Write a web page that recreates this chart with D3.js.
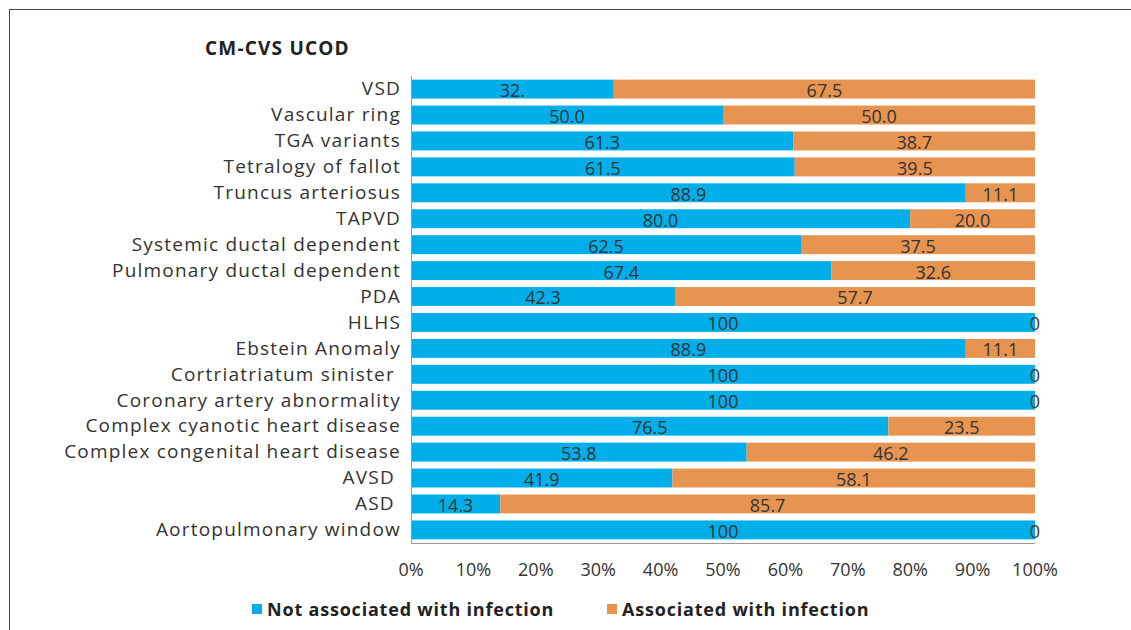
<!DOCTYPE html>
<html>
<head>
<meta charset="utf-8">
<script src="https://cdn.jsdelivr.net/npm/d3@7"></script>
<style>
  body { margin: 0; background: #fff; }
  text { font-family: "Open Sans", "DejaVu Sans", sans-serif; }
</style>
</head>
<body>
<div id="chart"></div>
<script>
const width = 1131, height = 630;

// Data (top to bottom)
const categories = [
  "VSD", "Vascular ring", "TGA variants", "Tetralogy of fallot", "Truncus arteriosus",
  "TAPVD", "Systemic ductal dependent", "Pulmonary ductal dependent", "PDA", "HLHS",
  "Ebstein Anomaly", "Cortriatriatum sinister ", "Coronary artery abnormality",
  "Complex cyanotic heart disease", "Complex congenital heart disease", "AVSD ", "ASD ",
  "Aortopulmonary window"
];
const notInfection = [32.5, 50.0, 61.3, 61.5, 88.9, 80.0, 62.5, 67.4, 42.3, 100, 88.9, 100, 100, 76.5, 53.8, 41.9, 14.3, 100];
const withInfection = [67.5, 50.0, 38.7, 39.5, 11.1, 20.0, 37.5, 32.6, 57.7, 0, 11.1, 0, 0, 23.5, 46.2, 58.1, 85.7, 0];
const notInfectionLabels = ["32.", "50.0", "61.3", "61.5", "88.9", "80.0", "62.5", "67.4", "42.3", "100", "88.9", "100", "100", "76.5", "53.8", "41.9", "14.3", "100"];
const withInfectionLabels = ["67.5", "50.0", "38.7", "39.5", "11.1", "20.0", "37.5", "32.6", "57.7", "0", "11.1", "0", "0", "23.5", "46.2", "58.1", "85.7", "0"];
const xTicks = [0, 10, 20, 30, 40, 50, 60, 70, 80, 90, 100];
const seriesNames = ["Not associated with infection", "Associated with infection"];
const colors = ["#00AEEA", "#E89451"];

const margin = {top: 76, left: 411, right: 96, bottom: 87};

const svg = d3.select("#chart").append("svg")
  .attr("width", width)
  .attr("height", height);

// frame
svg.append("rect")
  .attr("x", 9.5).attr("y", 9.5)
  .attr("width", 1200).attr("height", 700)
  .attr("fill", "none")
  .attr("stroke", "#444")
  .attr("stroke-width", 1);

svg.append("text")
  .attr("x", 205).attr("y", 55)
  .attr("font-size", 19)
  .attr("font-weight", "bold")
  .attr("letter-spacing", 1.2)
  .attr("fill", "#222")
  .text("CM-CVS UCOD");

const x = d3.scaleLinear().domain([0, 100])
  .range([margin.left, width - margin.right]).clamp(true);
const y = d3.scaleBand().domain(categories)
  .range([margin.top, height - margin.bottom])
  .paddingInner(0.27).paddingOuter(0.14);

const rows = categories.map((c, i) => ({
  cat: c, a: notInfection[i], b: withInfection[i],
  la: notInfectionLabels[i], lb: withInfectionLabels[i]
}));

// blue segments
svg.append("g").selectAll("rect")
  .data(rows).join("rect")
  .attr("x", x(0))
  .attr("y", d => y(d.cat))
  .attr("width", d => x(d.a) - x(0))
  .attr("height", y.bandwidth())
  .attr("fill", colors[0]);

// orange segments
svg.append("g").selectAll("rect")
  .data(rows.filter(d => d.b > 0)).join("rect")
  .attr("x", d => x(d.a))
  .attr("y", d => y(d.cat))
  .attr("width", d => x(d.a + d.b) - x(d.a))
  .attr("height", y.bandwidth())
  .attr("fill", colors[1]);

// axes lines
const axisColor = "#999";
svg.append("line")
  .attr("x1", x(0) + 0.5).attr("x2", x(0) + 0.5)
  .attr("y1", margin.top).attr("y2", height - margin.bottom)
  .attr("stroke", axisColor);
svg.append("line")
  .attr("x1", x(0)).attr("x2", x(100))
  .attr("y1", height - margin.bottom + 0.5).attr("y2", height - margin.bottom + 0.5)
  .attr("stroke", axisColor);

// category labels
svg.append("g").selectAll("text")
  .data(rows).join("text")
  .attr("x", x(0) - 10)
  .attr("y", d => y(d.cat) + y.bandwidth() / 2)
  .attr("dy", "0.33em")
  .attr("text-anchor", "end")
  .attr("font-size", 19)
  .attr("letter-spacing", 1.2)
  .attr("fill", "#333")
  .style("white-space", "pre")
  .text(d => d.cat);

// value labels
const labelY = d => y(d.cat) + y.bandwidth() / 2 + 2;
const valueText = sel => sel
  .attr("y", labelY)
  .attr("dy", "0.33em")
  .attr("text-anchor", "middle")
  .attr("font-size", 18)
  .attr("fill", "#333");
svg.append("g").selectAll("text")
  .data(rows).join("text")
  .attr("x", d => (x(0) + x(d.a)) / 2)
  .call(valueText)
  .text(d => d.la);
svg.append("g").selectAll("text")
  .data(rows).join("text")
  .attr("x", d => d.b > 0 ? (x(d.a) + x(d.a + d.b)) / 2 : x(100))
  .call(valueText)
  .text(d => d.lb);

// x tick labels
svg.append("g").selectAll("text")
  .data(xTicks).join("text")
  .attr("x", d => x(d))
  .attr("y", 570)
  .attr("dy", "0.35em")
  .attr("text-anchor", "middle")
  .attr("font-size", 18)
  .attr("fill", "#333")
  .text(d => d + "%");

// legend
const legendX = [252, 607];
const lg = svg.append("g").selectAll("g")
  .data(seriesNames).join("g")
  .attr("transform", (d, i) => `translate(${legendX[i]},610)`);
lg.append("rect")
  .attr("x", 0).attr("y", -6)
  .attr("width", 10).attr("height", 10)
  .attr("fill", (d, i) => colors[i]);
lg.append("text")
  .attr("x", 15).attr("y", 0)
  .attr("dy", "0.35em")
  .attr("font-size", 18)
  .attr("font-weight", "bold")
  .attr("letter-spacing", 0.8)
  .attr("fill", "#222")
  .text(d => d);
</script>
</body>
</html>
